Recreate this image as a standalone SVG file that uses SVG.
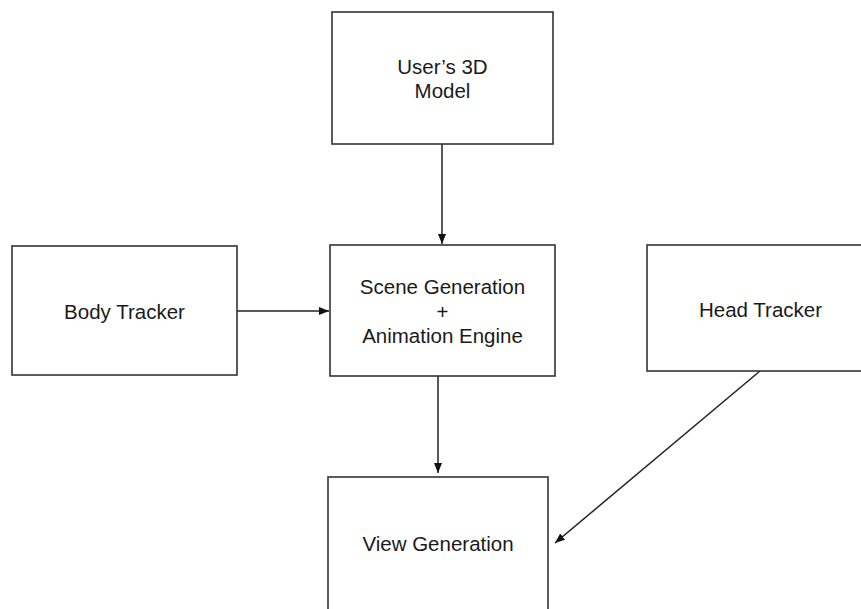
<svg xmlns="http://www.w3.org/2000/svg" width="861" height="609" viewBox="0 0 861 609">
<style>
.box{fill:#fff;stroke:#333;stroke-width:1.6}
.lbl{font-family:"Liberation Sans",Arial,sans-serif;font-size:20.5px;fill:#1a1a1a;text-anchor:middle}
.edge{stroke:#222;stroke-width:1.5;fill:none}
</style>
<defs>
<marker id="ah" markerUnits="userSpaceOnUse" markerWidth="11" markerHeight="9" refX="10" refY="4" orient="auto">
<path d="M0,0 L10,4 L0,8 z" fill="#111"/>
</marker>
</defs>
<rect width="861" height="609" fill="#fff"/>
<g id="connectors">
<line class="edge" x1="442" y1="144" x2="442" y2="244" marker-end="url(#ah)"/>
<line class="edge" x1="237" y1="311" x2="329" y2="311" marker-end="url(#ah)"/>
<line class="edge" x1="438" y1="376" x2="438" y2="473" marker-end="url(#ah)"/>
<line class="edge" x1="760" y1="371" x2="555" y2="543" marker-end="url(#ah)"/>
</g>
<g id="users3dmodel">
<rect class="box" x="332" y="12" width="221" height="132"/>
<text class="lbl" x="442.5" y="74">User’s 3D</text>
<text class="lbl" x="442.5" y="98">Model</text>
</g>
<g id="bodytracker">
<rect class="box" x="12" y="246" width="225" height="129"/>
<text class="lbl" x="124.5" y="319">Body Tracker</text>
</g>
<g id="scene">
<rect class="box" x="330" y="245" width="225" height="131"/>
<text class="lbl" x="442.5" y="294">Scene Generation</text>
<text class="lbl" x="442.5" y="319">+</text>
<text class="lbl" x="442.5" y="343">Animation Engine</text>
</g>
<g id="headtracker">
<rect class="box" x="647" y="245" width="227" height="126"/>
<text class="lbl" x="760.5" y="317">Head Tracker</text>
</g>
<g id="viewgeneration">
<rect class="box" x="328" y="477" width="220" height="140"/>
<text class="lbl" x="438" y="551">View Generation</text>
</g>
</svg>
